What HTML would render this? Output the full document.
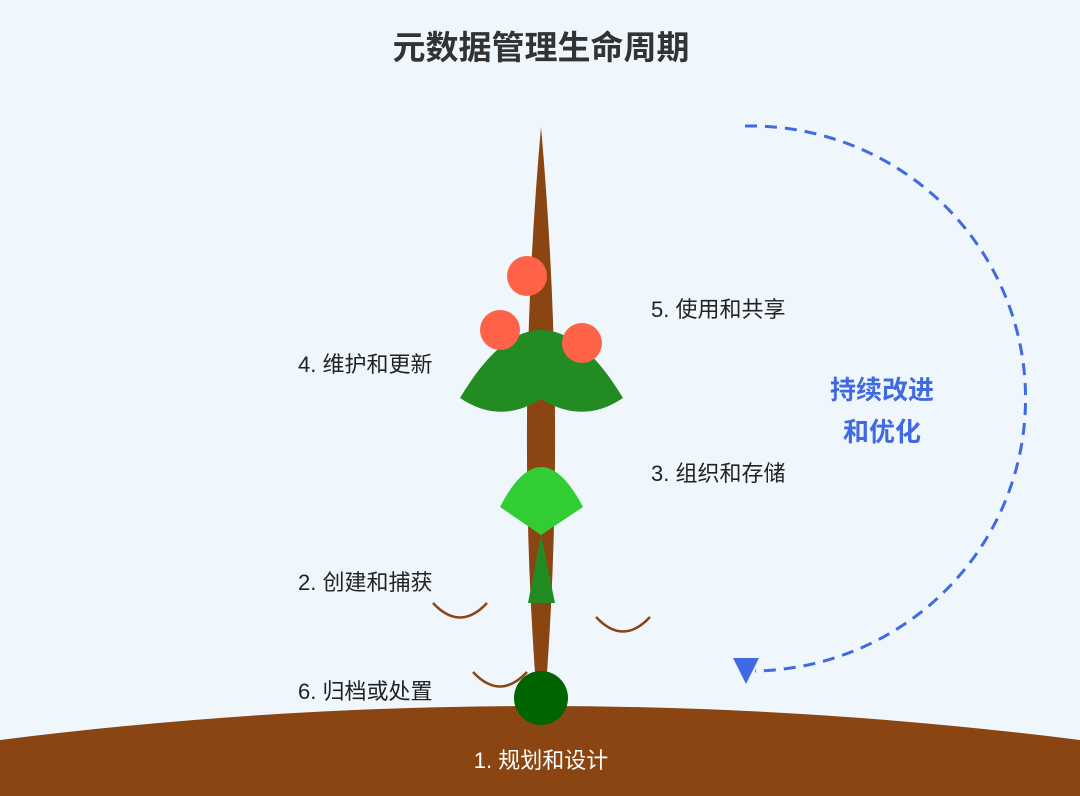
<!DOCTYPE html>
<html><head><meta charset="utf-8"><style>
body{margin:0;width:1080px;height:796px;background:#eff7fd;overflow:hidden;font-family:"Liberation Sans","Noto Sans CJK SC",sans-serif}
svg{position:absolute;left:0;top:0}
</style></head><body>
<svg width="1080" height="796" viewBox="0 0 1080 796">
<text x="541" y="59" text-anchor="middle" font-size="33" font-weight="bold" fill="#333" font-family="Liberation Sans, Noto Sans CJK SC, sans-serif">元数据管理生命周期</text>
<path d="M0,740 Q540,672 1080,740 L1080,796 L0,796 Z" fill="#8b4513"/>
<path d="M541,127 Q515,420 537,700 L545,700 Q567,420 541,127 Z" fill="#8b4513"/>
<path d="M460,398 Q541,262 623,398 Q583,425 541,399 Q500,425 460,398 Z" fill="#228b22"/>
<path d="M500,507 Q541,427 583,507 L541,535 Z" fill="#32cd32"/>
<path d="M541,535 L555,603 L528,603 Z" fill="#228b22"/>
<circle cx="527" cy="276" r="20" fill="#ff6347"/>
<circle cx="500" cy="330" r="20" fill="#ff6347"/>
<circle cx="582" cy="343" r="20" fill="#ff6347"/>
<circle cx="541" cy="698" r="27" fill="#006400"/>
<g fill="none" stroke="#8b4513" stroke-width="2.5">
<path d="M433,603 Q460,632 487,603"/>
<path d="M596,617 Q623,646 650,617"/>
<path d="M473,672 Q500,701 527,672"/>
</g>
<path d="M745,126 A275 272 0 0 1 755,671" fill="none" stroke="#4169e1" stroke-width="3" stroke-dasharray="12,8"/>
<path d="M733,658 L759,658 L746,684 Z" fill="#4169e1"/>
<g font-size="26" font-weight="bold" fill="#4169e1" text-anchor="middle">
<text x="882" y="399">持续改进</text>
<text x="882" y="441">和优化</text>
</g>
<g font-size="22" fill="#222">
<text x="651" y="317">5. 使用和共享</text>
<text x="298" y="372">4. 维护和更新</text>
<text x="651" y="481">3. 组织和存储</text>
<text x="298" y="590">2. 创建和捕获</text>
<text x="298" y="699">6. 归档或处置</text>
</g>
<text x="541" y="768" font-size="22" fill="#fff" text-anchor="middle">1. 规划和设计</text>
</svg>
</body></html>
